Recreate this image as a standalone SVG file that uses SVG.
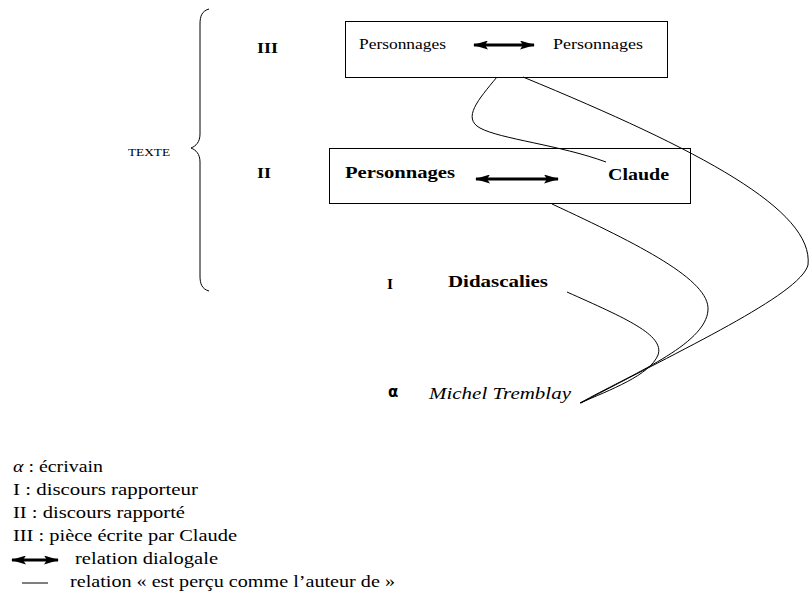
<svg xmlns="http://www.w3.org/2000/svg" width="809" height="596" viewBox="0 0 809 596">
  <style>
    text { font-family: "Liberation Serif", "Times New Roman", serif; fill: #000; }
    .reg { font-size: 14px; }
    .bold { font-size: 16px; font-weight: bold; }
    .lvl { font-size: 15px; font-weight: bold; }
    .leg { font-size: 16px; }
    .box { fill: none; stroke: #000; stroke-width: 1; }
    .curve { fill: none; stroke: #000; stroke-width: 1; }
    .dlg { stroke: #000; stroke-width: 3; marker-start: url(#head); marker-end: url(#head); }
  </style>
  <defs>
    <marker id="head" markerUnits="userSpaceOnUse" markerWidth="15" markerHeight="9" refX="14" refY="4.5" orient="auto-start-reverse" viewBox="0 0 15 9">
      <path d="M0,0 L15,4.5 L0,9 L3,4.5 z" fill="#000"/>
    </marker>
  </defs>
  <rect width="809" height="596" fill="#fff"/>

  <g id="brace">
    <path class="curve" d="M209,9 C202,11 200,16 200,24 L200,134 C200,142 196,146 191,148 C196,150 200,154 200,162 L200,276 C200,284 202,289 209,291"/>
  </g>
  <g id="texte">
    <text x="128" y="156" font-size="11" textLength="42" lengthAdjust="spacingAndGlyphs">TEXTE</text>
  </g>
  <g id="level-III"><text class="lvl" x="257" y="53" textLength="21" lengthAdjust="spacingAndGlyphs">III</text></g>
  <g id="level-II"><text class="lvl" x="257" y="178" textLength="14" lengthAdjust="spacingAndGlyphs">II</text></g>
  <g id="level-I"><text class="lvl" x="387" y="289" textLength="6" lengthAdjust="spacingAndGlyphs">I</text></g>

  <g id="box-III">
    <rect class="box" x="345.5" y="21.5" width="322" height="56"/>
    <text class="reg" x="359" y="49" textLength="87" lengthAdjust="spacingAndGlyphs">Personnages</text>
    <text class="reg" x="553" y="49" textLength="90" lengthAdjust="spacingAndGlyphs">Personnages</text>
  </g>
  <g id="box-II">
    <rect class="box" x="329.5" y="148.5" width="361" height="55"/>
    <text class="bold" x="345" y="178" textLength="110" lengthAdjust="spacingAndGlyphs">Personnages</text>
    <text class="bold" x="608" y="180" textLength="61" lengthAdjust="spacingAndGlyphs">Claude</text>
  </g>
  <g id="didascalies">
    <text class="bold" x="448" y="287" textLength="100" lengthAdjust="spacingAndGlyphs">Didascalies</text>
  </g>
  <g id="alpha">
    <text x="388" y="397" font-size="15" font-weight="bold" style="font-family:'DejaVu Sans','Liberation Sans',sans-serif">α</text>
  </g>
  <g id="michel-tremblay">
    <text x="429" y="399" font-size="16" font-style="italic" textLength="142" lengthAdjust="spacingAndGlyphs">Michel Tremblay</text>
  </g>

  <g id="connectors">
    <line class="dlg" x1="474" y1="45" x2="534" y2="45"/>
    <line class="dlg" x1="476" y1="179" x2="558" y2="179"/>
    <path class="curve" d="M497,77 C478,100 462,118 480,128 C500,139 560,145 606,162"/>
    <path class="curve" d="M523,77 C700,150 814,210 808,265 C800,295 680,350 581,403"/>
    <path class="curve" d="M552,204 C640,245 710,280 708,310 C706,345 630,375 580,403"/>
    <path class="curve" d="M567,292 C625,318 665,335 658,355 C650,375 610,390 580,403"/>
  </g>

  <g id="legend">
    <text class="leg" x="13" y="472" textLength="90" lengthAdjust="spacingAndGlyphs"><tspan font-style="italic">α</tspan> : écrivain</text>
    <text class="leg" x="13" y="495" textLength="185" lengthAdjust="spacingAndGlyphs">I : discours rapporteur</text>
    <text class="leg" x="13" y="518" textLength="172" lengthAdjust="spacingAndGlyphs">II : discours rapporté</text>
    <text class="leg" x="13" y="541" textLength="224" lengthAdjust="spacingAndGlyphs">III : pièce écrite par Claude</text>
    <line class="dlg" x1="12" y1="560" x2="58" y2="560"/>
    <text class="leg" x="75" y="564" textLength="143" lengthAdjust="spacingAndGlyphs">relation dialogale</text>
    <line x1="22" y1="583" x2="48" y2="583" stroke="#000" stroke-width="1"/>
    <text class="leg" x="70" y="587" textLength="325" lengthAdjust="spacingAndGlyphs">relation « est perçu comme l’auteur de »</text>
  </g>
</svg>
